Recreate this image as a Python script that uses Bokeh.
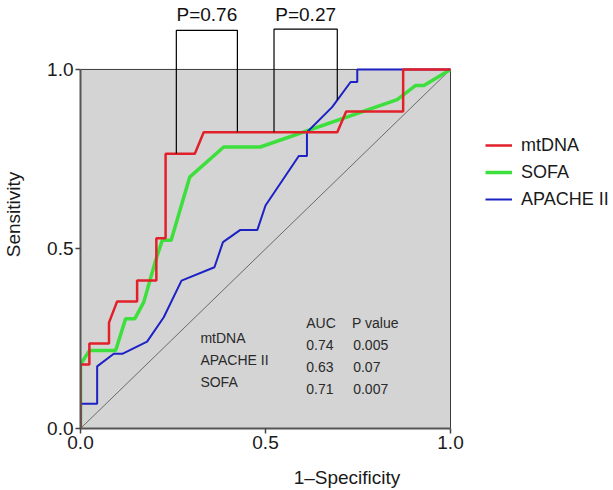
from bokeh.plotting import figure
from bokeh.models import (Range1d, FixedTicker, NumeralTickFormatter, Legend, LegendItem)
from bokeh.embed import file_html
from bokeh.resources import INLINE
from bokeh.core.properties import value

# ---- data ----
mtdna_fpr = [0, 0, 0.024, 0.024, 0.077, 0.077, 0.099, 0.153, 0.153, 0.205, 0.205, 0.230, 0.230,
             0.309, 0.333, 0.694, 0.718, 0.872, 0.872, 1.0]
mtdna_tpr = [0, 0.178, 0.178, 0.237, 0.237, 0.295, 0.354, 0.354, 0.412, 0.412, 0.530, 0.530, 0.765,
             0.765, 0.825, 0.825, 0.883, 0.883, 1.0, 1.0]

sofa_fpr = [0, 0, 0.024, 0.095, 0.122, 0.147, 0.171, 0.203, 0.221, 0.245, 0.295, 0.387, 0.486,
            0.856, 0.905, 0.928, 1.0]
sofa_tpr = [0, 0.178, 0.217, 0.217, 0.306, 0.306, 0.352, 0.468, 0.524, 0.524, 0.700, 0.784, 0.784,
            0.916, 0.955, 0.955, 1.0]

apache_fpr = [0, 0, 0.045, 0.045, 0.090, 0.113, 0.180, 0.225, 0.273, 0.362, 0.385, 0.432, 0.478,
              0.500, 0.590, 0.612, 0.612, 0.680, 0.730, 0.748, 0.748, 1.0]
apache_tpr = [0, 0.069, 0.069, 0.173, 0.208, 0.208, 0.242, 0.310, 0.412, 0.449, 0.519, 0.553, 0.553,
              0.621, 0.759, 0.759, 0.825, 0.895, 0.965, 0.965, 1.0, 1.0]

series_names = ["mtDNA", "SOFA", "APACHE II"]
series_colors = ["#e2202a", "#3ddf3d", "#1c22c4"]

ref_x = [0, 1]
ref_y = [0, 1]

axis_ticks = [0, 0.5, 1.0]

# comparison brackets
bracket_left = [0.259, 0.523]
bracket_right = [0.424, 0.694]
bracket_left_bottom = [0.765, 0.825]
bracket_right_bottom = [0.825, 0.915]
bracket_top = [1.109, 1.112]
bracket_labels = ["P=0.76", "P=0.27"]

# AUC table
table_names = ["mtDNA", "APACHE II", "SOFA"]
table_auc = ["0.74", "0.63", "0.71"]
table_p = ["0.005", "0.07", "0.007"]
table_headers = ["AUC", "P value"]

FONT = "Liberation Sans"

p = figure(width=613, height=490, output_backend="svg", toolbar_location=None,
           x_range=Range1d(0, 1.4405), y_range=Range1d(0, 1.192),
           min_border_left=80, min_border_right=0, min_border_top=0, min_border_bottom=62)
p.background_fill_color = "white"
p.border_fill_color = "white"
p.outline_line_color = None
p.grid.visible = False

# gray plotting box
p.quad(left=[0], right=[1], bottom=[0], top=[1], fill_color="#d4d4d4",
       line_color="#3a3a3a", line_width=1)
# reference diagonal
p.line(ref_x, ref_y, line_color="#6a6a6a", line_width=1)

r_sofa = p.line(sofa_fpr, sofa_tpr, line_color=series_colors[1], line_width=3.5)
r_apache = p.line(apache_fpr, apache_tpr, line_color=series_colors[2], line_width=2)
r_mtdna = p.line(mtdna_fpr, mtdna_tpr, line_color=series_colors[0], line_width=2.5)

# brackets
for i in range(len(bracket_labels)):
    p.line([bracket_left[i], bracket_left[i], bracket_right[i], bracket_right[i]],
           [bracket_left_bottom[i], bracket_top[i], bracket_top[i], bracket_right_bottom[i]],
           line_color="black", line_width=1.2)
p.text(x=[(a + b) / 2 for a, b in zip(bracket_left, bracket_right)], y=[1.153, 1.153],
       text=bracket_labels, text_font=value(FONT), text_font_size="19px",
       text_align="center", text_baseline="alphabetic", text_color="#111111")

# AUC table
name_y = [0.253, 0.192, 0.129]
val_y = [0.233, 0.171, 0.111]
TS = "14px"
p.text(x=[0.324] * 3, y=name_y, text=table_names, text_font=value(FONT), text_font_size=TS,
       text_align="left", text_baseline="middle", text_color="#2a2a2a")
p.text(x=[0.610, 0.734], y=[0.294, 0.294], text=table_headers, text_font=value(FONT),
       text_font_size=TS, text_align="left", text_baseline="middle", text_color="#2a2a2a")
p.text(x=[0.610] * 3, y=val_y, text=table_auc, text_font=value(FONT), text_font_size=TS,
       text_align="left", text_baseline="middle", text_color="#2a2a2a")
p.text(x=[0.737] * 3, y=val_y, text=table_p, text_font=value(FONT), text_font_size=TS,
       text_align="left", text_baseline="middle", text_color="#2a2a2a")

# axes
for ax in (p.xaxis[0], p.yaxis[0]):
    ax.bounds = (0, 1)
    ax.ticker = FixedTicker(ticks=axis_ticks)
    ax.formatter = NumeralTickFormatter(format="0.0")
    ax.minor_tick_line_color = None
    ax.major_tick_in = 0
    ax.major_tick_out = 5
    ax.major_tick_line_color = "#444444"
    ax.major_tick_line_width = 1.5
    ax.axis_line_color = "#555555"
    ax.axis_line_width = 2
    ax.major_label_text_font = FONT
    ax.major_label_text_font_size = "19px"
    ax.major_label_text_color = "#1a1a1a"
    ax.major_label_standoff = 2
    ax.axis_label_text_font = FONT
    ax.axis_label_text_font_size = "19px"
    ax.axis_label_text_font_style = "normal"
    ax.axis_label_text_color = "#1a1a1a"

p.xaxis[0].axis_label = "1\u2013Specificity"
p.yaxis[0].axis_label = "Sensitivity"
p.xaxis[0].axis_label_standoff = 15
p.yaxis[0].axis_label_standoff = 20

legend = Legend(items=[LegendItem(label=series_names[0], renderers=[r_mtdna]),
                       LegendItem(label=series_names[1], renderers=[r_sofa]),
                       LegendItem(label=series_names[2], renderers=[r_apache])],
                location=(405, 218), orientation="vertical",
                glyph_width=27, glyph_height=22, label_height=22, spacing=5,
                label_standoff=9, padding=0, margin=0,
                border_line_color=None, background_fill_alpha=0,
                label_text_font=FONT, label_text_font_size="18px", label_text_color="#1a1a1a")
p.add_layout(legend, "center")

open("out.html", "w").write(file_html(p, INLINE))
